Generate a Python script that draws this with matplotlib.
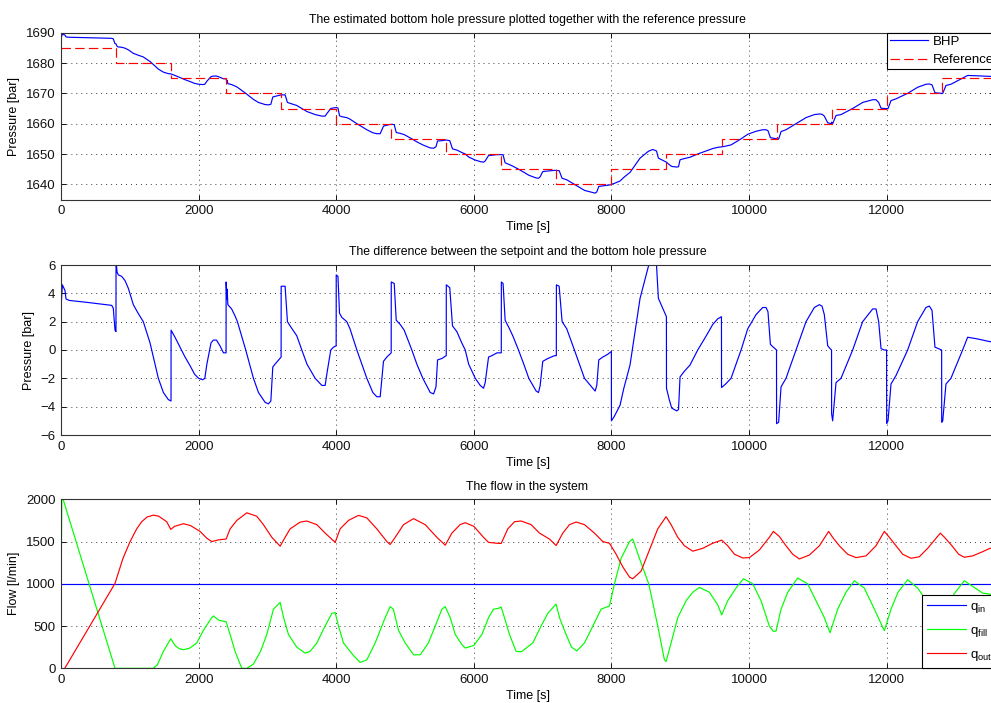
import numpy as np
import matplotlib
matplotlib.use("Agg")
import matplotlib.pyplot as plt

plt.rcParams['font.family'] = ['Liberation Sans', 'DejaVu Sans']
plt.rcParams['mathtext.default'] = 'regular'
plt.rcParams['font.size'] = 9.5

# ---------------- data ----------------
T_END = 13560

# Reference (setpoint) pressure: piecewise constant steps [bar]
ref_edges = [0, 800, 1600, 2400, 3200, 4000, 4800, 5600, 6400, 7200, 8000,
             8800, 9600, 10400, 11200, 12000, 12800]
ref_levels = [1685, 1680, 1675, 1670, 1665, 1660, 1655, 1650, 1645, 1640, 1645,
              1650, 1655, 1660, 1665, 1670, 1675]

# Pressure error (BHP minus setpoint) [bar]
err_t = [0, 5, 20, 58, 73, 120, 400, 737, 760, 785, 799,
         800, 815, 833, 882, 930, 979, 1051, 1120, 1196, 1294, 1366, 1415, 1488, 1560, 1599,
         1600, 1657, 1720, 1803, 1875, 1940, 2000, 2060, 2090, 2120, 2180, 2215, 2260, 2310, 2361, 2399,
         2400, 2410, 2415, 2425, 2480, 2530, 2564, 2685, 2797, 2870, 2967, 3015, 3050, 3078, 3110, 3199,
         3200, 3257, 3291, 3330, 3427, 3500, 3575, 3694, 3791, 3839, 3870, 3921, 3960, 3999,
         4000, 4025, 4048, 4082, 4154, 4200, 4300, 4445, 4532, 4590, 4639, 4687, 4735, 4799,
         4800, 4843, 4872, 4930, 4988, 5099, 5172, 5259, 5366, 5415, 5450, 5473, 5535, 5599,
         5600, 5650, 5690, 5753, 5825, 5875, 5925, 6021, 6093, 6141, 6165, 6214, 6262, 6337, 6399,
         6400, 6425, 6455, 6518, 6566, 6649, 6726, 6799, 6906, 6940, 6964, 7002, 7075, 7172, 7199,
         7200, 7240, 7283, 7350, 7462, 7608, 7729, 7763, 7787, 7816, 7874, 7947, 7999,
         8000, 8040, 8125, 8180, 8270, 8416, 8537, 8600, 8655, 8682, 8740, 8799,
         8800, 8840, 8876, 8949, 8975, 8997, 9060, 9142, 9254, 9385, 9472, 9545, 9599,
         9600, 9660, 9738, 9884, 9981, 10102, 10199, 10247, 10275, 10310, 10353, 10399,
         10400, 10430, 10465, 10537, 10683, 10828, 10949, 11022, 11060, 11094, 11143, 11177, 11199,
         11200, 11215, 11264, 11336, 11506, 11651, 11797, 11845, 11884, 11918, 11966, 11999,
         12000, 12020, 12063, 12136, 12305, 12450, 12571, 12620, 12659, 12702, 12799,
         12800, 12815, 12862, 12934, 13104, 13177, 13300, 13491, T_END]
err_v = [6.5, 3.4, 4.6, 4.2, 3.6, 3.5, 3.35, 3.15, 2.95, 1.4, 1.3,
         6.3, 5.5, 5.3, 5.2, 4.9, 4.35, 3.2, 2.6, 2.0, 0.5, -1.0, -2.0, -3.0, -3.5, -3.6,
         1.4, 0.9, 0.3, -0.5, -1.1, -1.7, -2.0, -2.1, -2.0, -1.0, 0.5, 0.7, 0.7, 0.3, -0.2, -0.2,
         4.8, 3.6, 4.3, 3.2, 2.9, 2.4, 2.0, 0.0, -2.0, -3.0, -3.7, -3.8, -3.6, -1.2, -1.0, -0.5,
         4.5, 4.5, 2.0, 1.7, 1.0, 0.0, -1.0, -2.0, -2.5, -2.5, -1.5, 0.0, 0.2, 0.3,
         5.3, 5.2, 2.6, 2.3, 2.0, 1.5, 0.0, -2.0, -3.0, -3.3, -3.3, -0.8, -0.5, -0.2,
         4.8, 4.7, 2.1, 1.8, 1.4, 0.0, -1.0, -2.0, -3.0, -3.1, -2.6, -0.7, -0.6, -0.4,
         4.6, 4.4, 1.7, 1.3, 0.5, 0.0, -1.0, -2.0, -2.5, -2.7, -2.3, -0.5, -0.4, -0.2, -0.2,
         4.8, 4.7, 2.1, 1.5, 1.0, 0.0, -1.0, -2.0, -2.9, -3.0, -2.5, -0.8, -0.6, -0.4, -0.4,
         4.6, 4.5, 2.0, 1.5, 0.0, -2.0, -2.7, -2.9, -2.5, -0.7, -0.5, -0.3, -0.1,
         -5.0, -4.7, -3.9, -2.7, -1.06, 3.65, 5.9, 6.5, 6.0, 3.65, 3.0, 2.35,
         -2.7, -3.5, -4.1, -4.3, -4.2, -1.9, -1.5, -1.06, 0.0, 1.06, 1.8, 2.2, 2.35,
         -2.65, -2.4, -2.0, 0.0, 1.5, 2.5, 3.0, 3.0, 2.7, 0.4, 0.2, 0.0,
         -5.2, -5.1, -2.6, -2.0, 0.0, 2.0, 3.0, 3.2, 3.1, 2.5, 0.3, 0.1, 0.0,
         -4.5, -5.0, -2.3, -2.0, 0.0, 2.0, 2.9, 2.9, 2.0, 0.1, 0.0, 0.0,
         -5.2, -5.0, -2.4, -1.8, 0.0, 2.0, 3.0, 3.1, 2.8, 0.2, 0.0,
         -5.1, -5.0, -2.4, -2.0, 0.0, 0.9, 0.8, 0.6, 0.55]

# Flow rates [l/min]
q_in_t = [0, T_END]
q_in_v = [1000, 1000]

q_fill_t = [0, 12, 785, 1340, 1400, 1488, 1595, 1658, 1720, 1779, 1875, 1973, 2070, 2191, 2215,
            2290, 2400, 2458, 2530, 2627, 2700, 2797, 2900, 2991, 3088, 3185, 3235, 3306, 3427,
            3548, 3620, 3718, 3839, 3936, 3985, 4033, 4106, 4251, 4348, 4445, 4566, 4712, 4784,
            4830, 4905, 5002, 5124, 5221, 5340, 5439, 5536, 5584, 5657, 5730, 5827, 5875, 6000,
            6117, 6214, 6287, 6360, 6397, 6445, 6518, 6615, 6690, 6857, 6978, 7075, 7196, 7245,
            7341, 7420, 7496, 7608, 7729, 7850, 7971, 8044, 8140, 8262, 8310, 8407, 8542, 8673,
            8770, 8794, 8867, 8964, 9085, 9182, 9278, 9424, 9545, 9603, 9690, 9811, 9918, 10053,
            10174, 10295, 10353, 10392, 10465, 10562, 10707, 10852, 10973, 11094, 11177, 11288,
            11409, 11530, 11675, 11821, 11966, 12063, 12165, 12305, 12450, 12620, 12780, 12900,
            12980, 13128, 13395, T_END]
q_fill_v = [750, 2050, 0, 0, 40, 200, 350, 270, 230, 220, 240, 300, 450, 600, 620,
            570, 550, 400, 200, 0, 0, 50, 200, 400, 700, 780, 600, 400, 250,
            180, 200, 300, 500, 650, 660, 500, 300, 150, 70, 100, 300, 600, 730,
            700, 450, 300, 160, 160, 300, 500, 700, 730, 600, 400, 280, 240, 270,
            400, 600, 700, 710, 726, 600, 400, 200, 195, 300, 500, 650, 760, 600,
            400, 250, 206, 300, 500, 700, 738, 1000, 1300, 1500, 1530, 1300, 1000, 500,
            100, 80, 300, 600, 800, 900, 957, 900, 750, 631, 800, 950, 1060, 1000,
            800, 500, 437, 440, 700, 900, 1068, 1000, 800, 600, 421, 700,
            900, 1036, 950, 700, 445, 700, 900, 1048, 950, 750, 450, 750,
            880, 1036, 890, 870]

q_out_t = [55, 785, 900, 1003, 1100, 1173, 1250, 1342, 1420, 1536, 1595, 1650, 1779, 1880, 2021,
           2118, 2191, 2290, 2400, 2458, 2555, 2700, 2845, 2942, 3064, 3185, 3257, 3330, 3476,
           3572, 3718, 3839, 3960, 3985, 4057, 4178, 4324, 4445, 4590, 4736, 4784, 4857, 4978,
           5124, 5293, 5463, 5584, 5681, 5800, 5875, 6000, 6141, 6214, 6336, 6397, 6494, 6591,
           6688, 6833, 6954, 7099, 7196, 7293, 7390, 7487, 7608, 7753, 7874, 7971, 8068, 8165,
           8262, 8310, 8431, 8552, 8673, 8794, 8867, 8964, 9061, 9182, 9327, 9472, 9603, 9690,
           9787, 9908, 10005, 10150, 10295, 10353, 10441, 10537, 10634, 10731, 10876, 11022,
           11157, 11215, 11312, 11433, 11554, 11700, 11845, 11966, 12039, 12136, 12233, 12353,
           12475, 12596, 12780, 12852, 12949, 13046, 13128, 13249, 13395, 13491, T_END]
q_out_v = [0, 1005, 1300, 1498, 1650, 1735, 1790, 1813, 1800, 1735, 1644, 1680, 1711, 1690, 1620,
           1540, 1500, 1520, 1530, 1650, 1750, 1840, 1800, 1700, 1550, 1445, 1550, 1650, 1730,
           1743, 1700, 1600, 1509, 1490, 1650, 1750, 1810, 1780, 1650, 1500, 1465, 1550, 1700,
           1771, 1700, 1550, 1457, 1600, 1700, 1723, 1680, 1550, 1490, 1480, 1477, 1650, 1735,
           1743, 1700, 1600, 1530, 1453, 1600, 1700, 1731, 1700, 1600, 1500, 1480, 1350, 1200,
           1080, 1060, 1150, 1400, 1650, 1794, 1700, 1550, 1450, 1386, 1420, 1480, 1517, 1450,
           1350, 1306, 1310, 1400, 1550, 1620, 1560, 1450, 1350, 1294, 1340, 1450,
           1620, 1550, 1450, 1350, 1310, 1330, 1450, 1620, 1550, 1450, 1350, 1302,
           1320, 1420, 1600, 1540, 1450, 1350, 1314, 1330, 1380, 1417, 1425]

# ---------------- derived series ----------------
err_t_arr = np.array(err_t, dtype=float)
err_v_arr = np.array(err_v, dtype=float)
idx = np.searchsorted(ref_edges, err_t_arr, side='right') - 1
bhp = np.array(ref_levels)[idx] + err_v_arr

ref_x = ref_edges + [T_END]
ref_y = ref_levels + [ref_levels[-1]]

# ---------------- figure ----------------
W, H = 991, 703
fig = plt.figure(figsize=(W / 100, H / 100), dpi=100)

def axes_px(left, top, right, bottom):
    return fig.add_axes([left / W, 1 - bottom / H, (right - left) / W, (bottom - top) / H])

ax1 = axes_px(61, 32.7, 994, 199.5)
ax2 = axes_px(61, 265, 994, 435)
ax3 = axes_px(61, 499.3, 994, 668.3)

BLUE, RED, GREEN = '#0000ff', '#ff0000', '#00ff00'
LW = 0.85
TXT = 9.0

def style(ax):
    ax.set_xlim(0, T_END)
    ax.set_xticks(np.arange(0, 13000, 2000))
    ax.grid(True, color='#222222', linestyle=(0, (1, 4.5)), linewidth=0.65)
    ax.set_axisbelow(True)
    ax.tick_params(direction='in', length=3.5, width=0.7, top=True, right=True,
                   labelsize=9.5, pad=4, colors='#111111')
    for sp in ax.spines.values():
        sp.set_linewidth(0.8)
        sp.set_color('#333333')
    ax.set_xlabel('Time [s]', fontsize=TXT, labelpad=3)

def legend_frame(leg):
    fr = leg.get_frame()
    fr.set_edgecolor('black')
    fr.set_linewidth(0.8)
    fr.set_alpha(1)

# Top: BHP and reference pressure
ax1.plot(err_t_arr, bhp, color=BLUE, lw=LW, label='BHP')
ax1.step(ref_x, ref_y, where='post', color=RED, lw=LW, linestyle=(0, (8, 3.6)),
         label='Reference')
ax1.set_ylim(1635, 1690)
ax1.set_yticks(np.arange(1640, 1691, 10))
style(ax1)
ax1.set_ylabel('Pressure [bar]', fontsize=TXT)
ax1.set_title('The estimated bottom hole pressure plotted together with the reference pressure',
              fontsize=8.8, pad=7)
leg1 = ax1.legend(loc='upper left', bbox_to_anchor=((887 - 61) / 933, 1.0),
                  frameon=True, fancybox=False, fontsize=9.5, handlelength=2.9,
                  borderpad=0.2, labelspacing=0.5, handletextpad=0.35, borderaxespad=0)
legend_frame(leg1)

# Middle: setpoint error
ax2.plot(err_t_arr, err_v_arr, color=BLUE, lw=LW)
ax2.set_ylim(-6, 6)
ax2.set_yticks(np.arange(-6, 7, 2))
style(ax2)
ax2.set_ylabel('Pressure [bar]', fontsize=TXT)
ax2.set_title('The difference between the setpoint and the bottom hole pressure',
              fontsize=8.8, pad=7)

# Bottom: flows
ax3.plot(q_in_t, q_in_v, color=BLUE, lw=LW, label='q$_{in}$')
ax3.plot(q_fill_t, q_fill_v, color=GREEN, lw=LW, label='q$_{fill}$')
ax3.plot(q_out_t, q_out_v, color=RED, lw=LW, label='q$_{out}$')
ax3.set_ylim(0, 2000)
ax3.set_yticks(np.arange(0, 2001, 500))
style(ax3)
ax3.set_ylabel('Flow [l/min]', fontsize=TXT)
ax3.set_title('The flow in the system', fontsize=8.8, pad=7)
leg3 = ax3.legend(loc='lower left', bbox_to_anchor=((922 - 61) / 933, 0.0),
                  frameon=True, fancybox=False, fontsize=9.5, handlelength=2.9,
                  borderpad=0.4, labelspacing=0.75, handletextpad=0.35, borderaxespad=0)
legend_frame(leg3)

fig.savefig('out.png', dpi=100)
